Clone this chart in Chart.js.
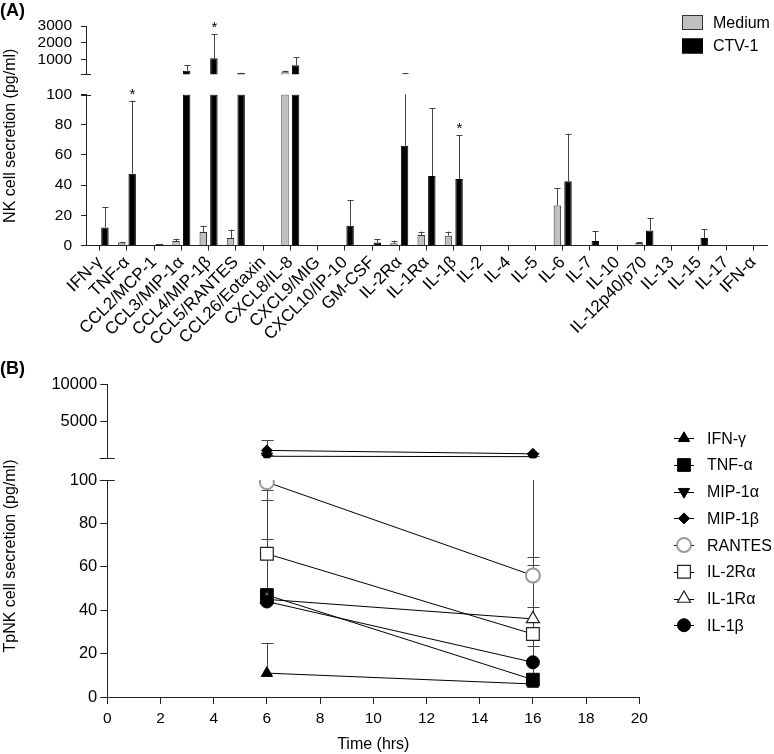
<!DOCTYPE html>
<html>
<head>
<meta charset="utf-8">
<script src="https://cdn.jsdelivr.net/npm/chart.js@4.4.1/dist/chart.umd.min.js"></script>
<style>
  html, body { margin: 0; padding: 0; background: #fff; }
  #wrap { position: relative; width: 774px; height: 754px; }
  #chartA { position: absolute; left: 0; top: 0; }
  #chartB { position: absolute; left: 0; top: 355px; }
</style>
</head>
<body>
<div id="wrap">
  <canvas id="chartA" width="774" height="355"></canvas>
  <canvas id="chartB" width="774" height="399"></canvas>
</div>
<script>
// ---- (A) NK cell secretion, Medium vs CTV-1 (pg/ml)
const analytes = ["IFN-γ", "TNF-α", "CCL2/MCP-1", "CCL3/MIP-1α", "CCL4/MIP-1β", "CCL5/RANTES",
  "CCL26/Eotaxin", "CXCL8/IL-8", "CXCL9/MIG", "CXCL10/IP-10", "GM-CSF", "IL-2Rα", "IL-1Rα",
  "IL-1β", "IL-2", "IL-4", "IL-5", "IL-6", "IL-7", "IL-10", "IL-12p40/p70", "IL-13", "IL-15",
  "IL-17", "IFN-α"];
const mediumMean = [0, 2, 0, 3, 9, 5, 0, 220, 0, 0, 0, 1.5, 7, 6.5, 0, 0, 0, 26.5, 0, 0, 1.7, 0, 0, 0, 0];
const mediumSD   = [0, 0.5, 0, 1.5, 4, 5.5, 0, 100, 0, 0, 0, 1.7, 2.2, 2.7, 0, 0, 0, 11.4, 0, 0, 0.6, 0, 0, 0, 0];
const ctvMean    = [12, 47.5, 1, 320, 1060, 180, 0, 640, 0, 13, 2, 66, 46, 44, 0, 0, 0, 42.5, 3, 0, 10, 0, 5, 0, 0];
const ctvSD      = [13.5, 48.5, 0, 340, 1460, 20, 0, 480, 0, 17, 2, 95, 45, 29, 0, 0, 0, 31.5, 6.7, 0, 8, 0, 5.8, 0, 0];
const significant = ["TNF-α", "CCL4/MIP-1β", "IL-1β"];
const aLowTicks = [0, 20, 40, 60, 80, 100];
const aHighTicks = [1000, 2000, 3000];

// ---- (B) TpNK cell secretion over time (pg/ml)
const hours = [6, 16];
const hourTicks = [0, 2, 4, 6, 8, 10, 12, 14, 16, 18, 20];
const tpnkNames = ["IFN-γ", "TNF-α", "MIP-1α", "MIP-1β", "RANTES", "IL-2Rα", "IL-1Rα", "IL-1β"];
const tpnkAt6   = [11, 47, 370, 1150, 99, 66, 45, 44];
const tpnkAt16  = [6, 8, 320, 700, 56, 29, 36, 16];
const tpnkSD6   = [14, 44, 150, 1350, 4, 6.6, 50.6, 3];
const tpnkSD16  = [1, 95, 40, 100, 8.6, 32, 5.6, 7.5];
const bLowTicks = [0, 20, 40, 60, 80, 100];
const bHighTicks = [5000, 10000];

const axisColor = '#222';
Chart.defaults.font.family = '"Liberation Sans", Arial, sans-serif';
Chart.defaults.color = '#000';

const setTicks = list => s => { s.ticks = list.map(v => ({ value: v })); };
const px = v => Math.round(v) + 0.5;

// rotated y title, centred on the whole (broken) axis
const stackTitle = {
  id: 'stackTitle',
  afterDraw(chart, args, o) {
    const { ctx, chartArea } = chart;
    ctx.save();
    ctx.translate(o.x, (chartArea.top + chartArea.bottom) / 2 + (o.shift || 0));
    ctx.rotate(-Math.PI / 2);
    ctx.textAlign = 'center';
    ctx.textBaseline = 'middle';
    ctx.font = o.size + 'px ' + Chart.defaults.font.family;
    ctx.fillStyle = '#000';
    ctx.fillText(o.text, 0, 0);
    ctx.restore();
  }
};

// short marks crossing the y axis where it is broken
const axisBreak = {
  id: 'axisBreak',
  afterDraw(chart, args, o) {
    const { ctx } = chart;
    const ax = chart.scales.y.right;
    ctx.save();
    ctx.strokeStyle = axisColor;
    ctx.lineWidth = 1;
    ctx.beginPath();
    [chart.scales.yTop.bottom, chart.scales.y.top].forEach(py => {
      ctx.moveTo(ax - o.half, px(py));
      ctx.lineTo(ax + o.half, px(py));
    });
    ctx.stroke();
    ctx.restore();
  }
};

// one-sided SD bars for panel A, split over the two y segments
const errorBarsA = {
  id: 'errorBarsA',
  afterDatasetsDraw(chart) {
    const { ctx } = chart;
    const low = chart.scales.y, up = chart.scales.yTop;
    ctx.save();
    ctx.strokeStyle = '#444';
    ctx.lineWidth = 1;
    ctx.fillStyle = '#000';
    ctx.font = '15px ' + Chart.defaults.font.family;
    ctx.textAlign = 'center';
    chart.data.datasets.forEach((ds, di) => {
      if (!ds.means) return;
      const meta = chart.getDatasetMeta(di);
      ds.means.forEach((m, i) => {
        const s = ds.sds[i];
        if (!s) return;
        const x = px(meta.data[i].x);
        const top = m + s;
        ctx.beginPath();
        if (m < low.max) {
          ctx.moveTo(x, low.getPixelForValue(m));
          ctx.lineTo(x, low.getPixelForValue(Math.min(top, low.max)));
        }
        if (top > up.min) {
          ctx.moveTo(x, up.getPixelForValue(Math.max(m, up.min)));
          ctx.lineTo(x, up.getPixelForValue(Math.min(top, up.max)));
        }
        const cy = px((top > low.max ? up : low).getPixelForValue(top));
        ctx.moveTo(x - 3, cy);
        ctx.lineTo(x + 3, cy);
        ctx.stroke();
        if (ds.stars && ds.stars.includes(chart.data.labels[i])) ctx.fillText('*', x, cy - 3);
      });
    });
    ctx.restore();
  }
};

// box legend for panel A
const boxLegend = {
  id: 'boxLegend',
  afterDraw(chart, args, o) {
    const { ctx } = chart;
    ctx.save();
    ctx.font = o.size + 'px ' + Chart.defaults.font.family;
    ctx.textBaseline = 'middle';
    chart.data.datasets.filter(ds => ds.yAxisID === 'y').forEach((ds, k) => {
      const y = o.y + k * o.row;
      ctx.fillStyle = ds.backgroundColor;
      ctx.fillRect(o.x, y, o.w, o.h);
      ctx.strokeStyle = ds.borderColor;
      ctx.lineWidth = 1;
      ctx.strokeRect(o.x + 0.5, y + 0.5, o.w - 1, o.h - 1);
      ctx.fillStyle = '#000';
      ctx.fillText(ds.label, o.textX, y + o.h / 2 + 1);
    });
    ctx.restore();
  }
};

new Chart(document.getElementById('chartA'), {
  type: 'bar',
  data: {
    labels: analytes,
    datasets: [
      { label: 'Medium', data: mediumMean.map(v => Math.min(v, 100)), means: mediumMean, sds: mediumSD,
        stack: 'medium', yAxisID: 'y', backgroundColor: '#c0c0c0', borderColor: '#333', borderWidth: 1 },
      { label: 'CTV-1', data: ctvMean.map(v => Math.min(v, 100)), means: ctvMean, sds: ctvSD, stars: significant,
        stack: 'ctv', yAxisID: 'y', backgroundColor: '#000', borderColor: '#000', borderWidth: 1 },
      { label: 'Medium', data: mediumMean.map(v => v > 100 ? v : null),
        stack: 'medium', yAxisID: 'yTop', backgroundColor: '#c0c0c0', borderColor: '#333', borderWidth: 1 },
      { label: 'CTV-1', data: ctvMean.map(v => v > 100 ? v : null),
        stack: 'ctv', yAxisID: 'yTop', backgroundColor: '#000', borderColor: '#000', borderWidth: 1 }
    ]
  },
  options: {
    responsive: false,
    animation: false,
    datasets: { bar: { categoryPercentage: 0.78, barPercentage: 0.7 } },
    layout: { padding: { left: 0, right: 7, top: 0, bottom: 0 } },
    plugins: {
      legend: { display: false },
      tooltip: { enabled: false },
      title: { display: true, text: '(A)', align: 'start', color: '#000',
        font: { size: 18, weight: 'bold' }, padding: { top: 0, bottom: 4.4 } },
      boxLegend: { x: 682, y: 15, w: 21, h: 15, row: 23.5, textX: 713, size: 16 },
      stackTitle: { text: 'NK cell secretion (pg/ml)', x: 11, size: 16 },
      axisBreak: { half: 5 }
    },
    scales: {
      x: {
        grid: { display: true, drawOnChartArea: false, offset: false, tickLength: 5, color: axisColor },
        border: { color: axisColor },
        ticks: { autoSkip: false, maxRotation: 45, minRotation: 45, padding: 2, font: { size: 17 }, color: '#000' },
        afterFit: s => { s.height = 109.5; }
      },
      y: {
        stack: 'a', stackWeight: 151, weight: 1, stacked: false, min: 0, max: 100,
        afterBuildTicks: setTicks(aLowTicks),
        afterFit: s => { s.width = 86; },
        grid: { drawOnChartArea: false, tickLength: 5, color: axisColor },
        border: { color: axisColor },
        ticks: { autoSkip: false, padding: 9, font: { size: 15.5 }, color: '#000', callback: v => String(v) }
      },
      yGap: { stack: 'a', stackWeight: 20.2, weight: 2, display: false },
      yTop: {
        stack: 'a', stackWeight: 48.3, weight: 3, stacked: false, min: 100, max: 3000,
        afterBuildTicks: setTicks(aHighTicks),
        afterFit: s => { s.width = 86; },
        grid: { drawOnChartArea: false, tickLength: 5, color: axisColor },
        border: { color: axisColor },
        ticks: { autoSkip: false, padding: 9, font: { size: 15.5 }, color: '#000', callback: v => String(v) }
      }
    }
  },
  plugins: [errorBarsA, boxLegend, stackTitle, axisBreak]
});

// ---- panel B
const tpnkStyles = [
  { shape: 'triangle', r: 6.5, fill: '#000', stroke: '#000', lw: 1 },
  { shape: 'rect', r: 9, fill: '#000', stroke: '#000', lw: 1 },
  { shape: 'triangle', rot: 180, r: 6.5, fill: '#000', stroke: '#000', lw: 1 },
  { shape: 'rectRot', r: 5.5, fill: '#000', stroke: '#000', lw: 1 },
  { shape: 'circle', r: 7, fill: '#fff', stroke: '#999', lw: 2 },
  { shape: 'rect', r: 9, fill: '#fff', stroke: '#222', lw: 1.2 },
  { shape: 'triangle', r: 7.5, fill: '#fff', stroke: '#222', lw: 1.2 },
  { shape: 'circle', r: 6.5, fill: '#000', stroke: '#000', lw: 1 }
];

// SD bars (upper side) for panel B
const errorBarsB = {
  id: 'errorBarsB',
  beforeDatasetsDraw(chart) {
    const { ctx } = chart;
    ctx.save();
    ctx.strokeStyle = '#444';
    ctx.lineWidth = 1;
    chart.data.datasets.forEach((ds, di) => {
      const meta = chart.getDatasetMeta(di);
      const sc = chart.scales[ds.yAxisID];
      ds.data.forEach((p, j) => {
        const s = ds.sds[j];
        if (!s) return;
        const x = px(meta.data[j].x);
        const hi = p.y + s;
        ctx.beginPath();
        ctx.moveTo(x, sc.getPixelForValue(p.y));
        ctx.lineTo(x, sc.getPixelForValue(Math.min(hi, sc.max)));
        if (hi <= sc.max) {
          const py = px(sc.getPixelForValue(hi));
          ctx.moveTo(x - 6, py);
          ctx.lineTo(x + 6, py);
        }
        ctx.stroke();
      });
    });
    ctx.restore();
  }
};

// line + marker legend for panel B
const markerLegend = {
  id: 'markerLegend',
  afterDraw(chart, args, o) {
    const { ctx } = chart;
    ctx.save();
    ctx.font = o.size + 'px ' + Chart.defaults.font.family;
    ctx.textBaseline = 'middle';
    chart.data.datasets.forEach((ds, k) => {
      const y = o.y + k * o.row;
      ctx.strokeStyle = '#000';
      ctx.lineWidth = 1;
      ctx.beginPath();
      ctx.moveTo(o.x - 10, px(y));
      ctx.lineTo(o.x + 10, px(y));
      ctx.stroke();
      ctx.fillStyle = ds.pointBackgroundColor;
      ctx.strokeStyle = ds.pointBorderColor;
      ctx.lineWidth = ds.pointBorderWidth;
      Chart.helpers.drawPoint(ctx, { pointStyle: ds.pointStyle, rotation: ds.pointRotation,
        radius: ds.pointRadius, borderWidth: ds.pointBorderWidth }, o.x, y);
      ctx.fillStyle = '#000';
      ctx.fillText(ds.label, o.textX, y + 1);
    });
    ctx.restore();
  }
};

new Chart(document.getElementById('chartB'), {
  type: 'line',
  data: {
    datasets: tpnkNames.map((name, k) => {
      const vals = [tpnkAt6[k], tpnkAt16[k]];
      const st = tpnkStyles[k];
      return {
        label: name,
        data: hours.map((h, j) => ({ x: h, y: vals[j] })),
        sds: [tpnkSD6[k], tpnkSD16[k]],
        yAxisID: Math.min(...vals) > 100 ? 'yTop' : 'y',
        order: tpnkNames.length - k,
        borderColor: '#000', borderWidth: 1, fill: false,
        pointStyle: st.shape, pointRotation: st.rot || 0, pointRadius: st.r,
        pointBackgroundColor: st.fill, pointBorderColor: st.stroke, pointBorderWidth: st.lw
      };
    })
  },
  options: {
    responsive: false,
    animation: false,
    layout: { padding: { left: 0, right: 134.7, top: 0, bottom: 0 } },
    plugins: {
      legend: { display: false },
      tooltip: { enabled: false },
      title: { display: true, text: '(B)', align: 'start', color: '#000',
        font: { size: 18, weight: 'bold' }, padding: { top: 3.2, bottom: 4.2 } },
      markerLegend: { x: 684, y: 83.3, row: 26.7, textX: 707, size: 16 },
      stackTitle: { text: 'TpNK cell secretion (pg/ml)', x: 11, shift: 15.5, size: 16 },
      axisBreak: { half: 7.5 }
    },
    scales: {
      x: {
        type: 'linear', min: 0, max: 20,
        afterBuildTicks: setTicks(hourTicks),
        afterFit: s => { s.height = 57; },
        grid: { drawOnChartArea: false, tickLength: 7, color: axisColor },
        border: { color: axisColor },
        ticks: { autoSkip: false, padding: 5, font: { size: 15.5 }, color: '#000' },
        title: { display: true, text: 'Time (hrs)', color: '#000', font: { size: 16 }, padding: { top: 4, bottom: 0 } }
      },
      y: {
        stack: 'b', stackWeight: 217, weight: 1, min: 0, max: 100,
        afterBuildTicks: setTicks(bLowTicks),
        afterFit: s => { s.width = 107.3; },
        grid: { drawOnChartArea: false, tickLength: 7, color: axisColor },
        border: { color: axisColor },
        ticks: { autoSkip: false, padding: 3, font: { size: 16.5 }, color: '#000', callback: v => String(v) }
      },
      yGap: { stack: 'b', stackWeight: 21.7, weight: 2, display: false },
      yTop: {
        stack: 'b', stackWeight: 74.3, weight: 3, min: 100, max: 10000,
        afterBuildTicks: setTicks(bHighTicks),
        afterFit: s => { s.width = 107.3; },
        grid: { drawOnChartArea: false, tickLength: 7, color: axisColor },
        border: { color: axisColor },
        ticks: { autoSkip: false, padding: 3, font: { size: 16.5 }, color: '#000', callback: v => String(v) }
      }
    }
  },
  plugins: [errorBarsB, markerLegend, stackTitle, axisBreak]
});
</script>
</body>
</html>
